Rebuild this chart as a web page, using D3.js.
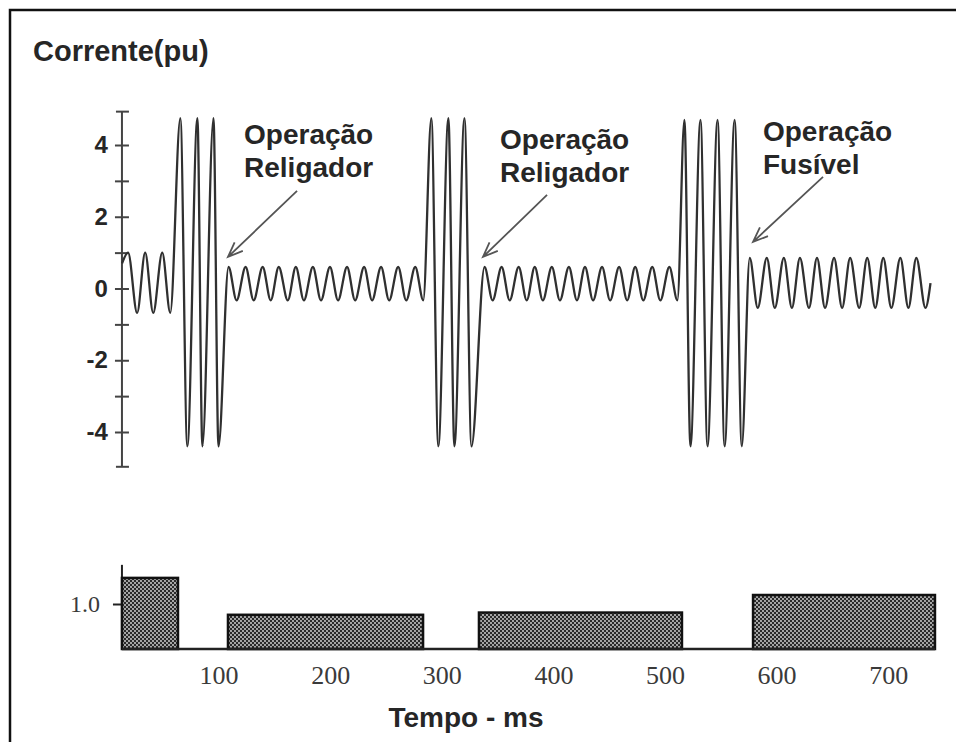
<!DOCTYPE html>
<html lang="pt">
<head>
<meta charset="UTF-8">
<title>Corrente(pu) - Operação Religador / Fusível</title>
<script src="https://d3js.org/d3.v7.min.js"></script>
<style>
  body { margin: 0; background: #fff; }
  svg { display: block; }
  .bold { font-family: "Liberation Sans", Arial, sans-serif; font-weight: bold; fill: #262626; }
  .serif { font-family: "Liberation Serif", "Times New Roman", serif; fill: #3a3a3a; }
</style>
</head>
<body>
<svg id="chart" width="956" height="742"></svg>
<script>
// current waveform, [time ms, current pu] at each peak and trough
const preFault = [[13.5,0.7],[18.9,1.0],[27,-0.68],[34.2,1.0],[41.4,-0.68],[49.5,1.0],[56.7,-0.68]];
const fault1 = [[65.7,4.75],[72,-4.4],[81,4.75],[85.5,-4.4],[95.4,4.75],[99.9,-4.4]];
const post1 = [[108.9,0.6],[116.1,-0.33],[124.2,0.6],[131.4,-0.33],[139.5,0.6],[146.7,-0.33],
  [153.9,0.6],[162,-0.33],[169.2,0.6],[176.4,-0.33],[184.5,0.6],[191.7,-0.33],
  [199.8,0.6],[207,-0.33],[215.1,0.6],[222.3,-0.33],[230.4,0.6],[237.5,-0.33],
  [245.6,0.6],[252.8,-0.33],[260.9,0.6],[268.1,-0.33],[276.2,0.6],[283.4,-0.33]];
const fault2 = [[290.6,4.75],[296.9,-4.4],[305.9,4.75],[311.3,-4.4],[320.3,4.75],[326.6,-4.4]];
const post2 = [[338.3,0.6],[345.5,-0.33],[353.6,0.6],[360.8,-0.33],[368.9,0.6],[376.1,-0.33],
  [383.3,0.6],[390.5,-0.33],[398.6,0.6],[405.8,-0.33],[413.9,0.6],[421.1,-0.33],
  [428.3,0.6],[435.5,-0.33],[443.6,0.6],[450.8,-0.33],[458.9,0.6],[466.1,-0.33],
  [473.3,0.6],[480.5,-0.33],[488.6,0.6],[495.8,-0.33],[503.9,0.6],[511.1,-0.33]];
const fault3 = [[517.4,4.7],[522.8,-4.4],[531.8,4.7],[538.1,-4.4],[547.1,4.7],[553.4,-4.4],[562.4,4.7],[568.8,-4.4]];
const post3 = [[575.9,0.85],[583.1,-0.54],[591.2,0.85],[598.4,-0.54],[606.5,0.85],[613.7,-0.54],
  [620.9,0.85],[629,-0.54],[636.2,0.85],[643.4,-0.54],[651.5,0.85],[658.7,-0.54],
  [665.9,0.85],[674,-0.54],[681.2,0.85],[688.4,-0.54],[695.6,0.85],[702.8,-0.54],
  [710.9,0.85],[718.1,-0.54],[725.2,0.85],[733.4,-0.54],[737.9,0.15]];

// lower panel blocks
const barStart = [13.4, 108.4, 333.3, 578.9];
const barEnd = [63.6, 283.2, 515.2, 741.9];
const barValue = [1.58, 0.76, 0.81, 1.2];

const xTicks = [100, 200, 300, 400, 500, 600, 700];
const yTicks = [-4, -3, -2, -1, 0, 1, 2, 3, 4];
const yBarTicks = [1.0];

// annotations: [label lines, text time, text current, arrow tail t, tail i, tip t, tip i]
const notes = [
  [["Operação", "Religador"], 122.8, 4.03, 170.3, 2.72, 108.4, 0.88],
  [["Operação", "Religador"], 352.2, 3.89, 394.3, 2.61, 336.9, 0.88],
  [["Operação", "Fusível"], 587.8, 4.11, 641.6, 3.11, 578.9, 1.3]
];

const tStart = 13.4, tEnd = 742;

const svg = d3.select("#chart");

const x = d3.scaleLinear().domain([0, 700]).range([107, 888.2]);
const yTop = d3.scaleLinear().domain([-4, 4]).range([432, 145]);
const yBot = d3.scaleLinear().domain([0, 1]).range([649, 604]);

// frame
svg.append("rect")
  .attr("x", 10).attr("y", 10).attr("width", 1000).attr("height", 1000)
  .attr("fill", "none").attr("stroke", "#111").attr("stroke-width", 2.5);

// dotted fill for the blocks
const pat = svg.append("defs").append("pattern")
  .attr("id", "dots").attr("patternUnits", "userSpaceOnUse")
  .attr("width", 4).attr("height", 4);
pat.append("rect").attr("width", 4).attr("height", 4).attr("fill", "#2a2a2a");
pat.append("circle").attr("cx", 1).attr("cy", 1).attr("r", 0.9).attr("fill", "#e0e0e0");
pat.append("circle").attr("cx", 3).attr("cy", 3).attr("r", 0.9).attr("fill", "#e0e0e0");

// title
svg.append("text").attr("class", "bold")
  .attr("x", 33).attr("y", 61)
  .style("font-size", "29px")
  .text("Corrente(pu)");

// top y axis
const ax0 = x(tStart);
svg.append("line")
  .attr("x1", ax0).attr("x2", ax0)
  .attr("y1", yTop(4.93)).attr("y2", yTop(-4.97))
  .attr("stroke", "#444").attr("stroke-width", 2);
[4.93, -4.97].forEach(v => {
  svg.append("line")
    .attr("x1", ax0 - 6).attr("x2", ax0 + 7)
    .attr("y1", yTop(v)).attr("y2", yTop(v))
    .attr("stroke", "#444").attr("stroke-width", 2);
});

const gLeft = svg.append("g").attr("transform", `translate(${ax0},0)`)
  .call(d3.axisLeft(yTop).tickValues(yTicks).tickSize(7).tickPadding(7)
    .tickFormat(d => d % 2 === 0 ? String(d) : ""));
const gRight = svg.append("g").attr("transform", `translate(${ax0},0)`)
  .call(d3.axisRight(yTop).tickValues(yTicks).tickSize(7).tickFormat(""));
[gLeft, gRight].forEach(g => {
  g.select(".domain").remove();
  g.selectAll(".tick line").attr("stroke", "#444").attr("stroke-width", 2);
});
gLeft.selectAll(".tick text")
  .attr("class", "bold")
  .style("font-size", "24px")
  .attr("fill", "#333");

// waveform
const wave = [].concat(preFault, fault1, post1, fault2, post2, fault3, post3);
const line = d3.line()
  .x(d => x(d[0]))
  .y(d => yTop(d[1]))
  .curve(d3.curveMonotoneX);
svg.append("path")
  .datum(wave)
  .attr("d", line)
  .attr("fill", "none")
  .attr("stroke", "#303030")
  .attr("stroke-width", 2.3)
  .attr("stroke-linejoin", "round");

// annotations with arrows
notes.forEach(n => {
  const t = svg.append("text").attr("class", "bold")
    .attr("x", x(n[1])).attr("y", yTop(n[2]))
    .style("font-size", "28px");
  n[0].forEach((s, i) => {
    t.append("tspan").attr("x", x(n[1])).attr("dy", i === 0 ? 0 : 33).text(s);
  });
  const x1 = x(n[3]), y1 = yTop(n[4]), x2 = x(n[5]), y2 = yTop(n[6]);
  const ang = Math.atan2(y1 - y2, x1 - x2);
  const hl = 16, ha = 0.38;
  svg.append("path")
    .attr("d", `M${x1},${y1}L${x2},${y2}` +
      `M${x2 + hl * Math.cos(ang + ha)},${y2 + hl * Math.sin(ang + ha)}L${x2},${y2}` +
      `L${x2 + hl * Math.cos(ang - ha)},${y2 + hl * Math.sin(ang - ha)}`)
    .attr("fill", "none").attr("stroke", "#555").attr("stroke-width", 1.8);
});

// lower panel
svg.append("line")
  .attr("x1", ax0).attr("x2", ax0)
  .attr("y1", yBot(1.87)).attr("y2", yBot(0))
  .attr("stroke", "#222").attr("stroke-width", 2);

const gBot = svg.append("g").attr("transform", `translate(${ax0},0)`)
  .call(d3.axisLeft(yBot).tickValues(yBarTicks).tickSize(9).tickPadding(13).tickFormat(d3.format(".1f")));
gBot.select(".domain").remove();
gBot.selectAll(".tick line").attr("stroke", "#222").attr("stroke-width", 2);
gBot.selectAll(".tick text").attr("class", "serif").style("font-size", "24px").attr("fill", "#3a3a3a");

svg.selectAll("rect.blk")
  .data(barValue)
  .enter().append("rect")
  .attr("class", "blk")
  .attr("x", (d, i) => x(barStart[i]))
  .attr("width", (d, i) => x(barEnd[i]) - x(barStart[i]))
  .attr("y", d => yBot(d))
  .attr("height", d => yBot(0) - yBot(d))
  .attr("fill", "url(#dots)")
  .attr("stroke", "#111")
  .attr("stroke-width", 2.5);

svg.append("line")
  .attr("x1", ax0).attr("x2", x(tEnd))
  .attr("y1", yBot(0)).attr("y2", yBot(0))
  .attr("stroke", "#222").attr("stroke-width", 2.5);

const gX = svg.append("g").attr("transform", `translate(0,${yBot(0)})`)
  .call(d3.axisBottom(x).tickValues(xTicks).tickSize(0).tickPadding(17));
gX.select(".domain").remove();
gX.selectAll(".tick text").attr("class", "serif").style("font-size", "26px").attr("fill", "#3a3a3a");

svg.append("text").attr("class", "bold")
  .attr("x", 466).attr("y", 727)
  .attr("text-anchor", "middle")
  .style("font-size", "28px")
  .text("Tempo - ms");
</script>
</body>
</html>
